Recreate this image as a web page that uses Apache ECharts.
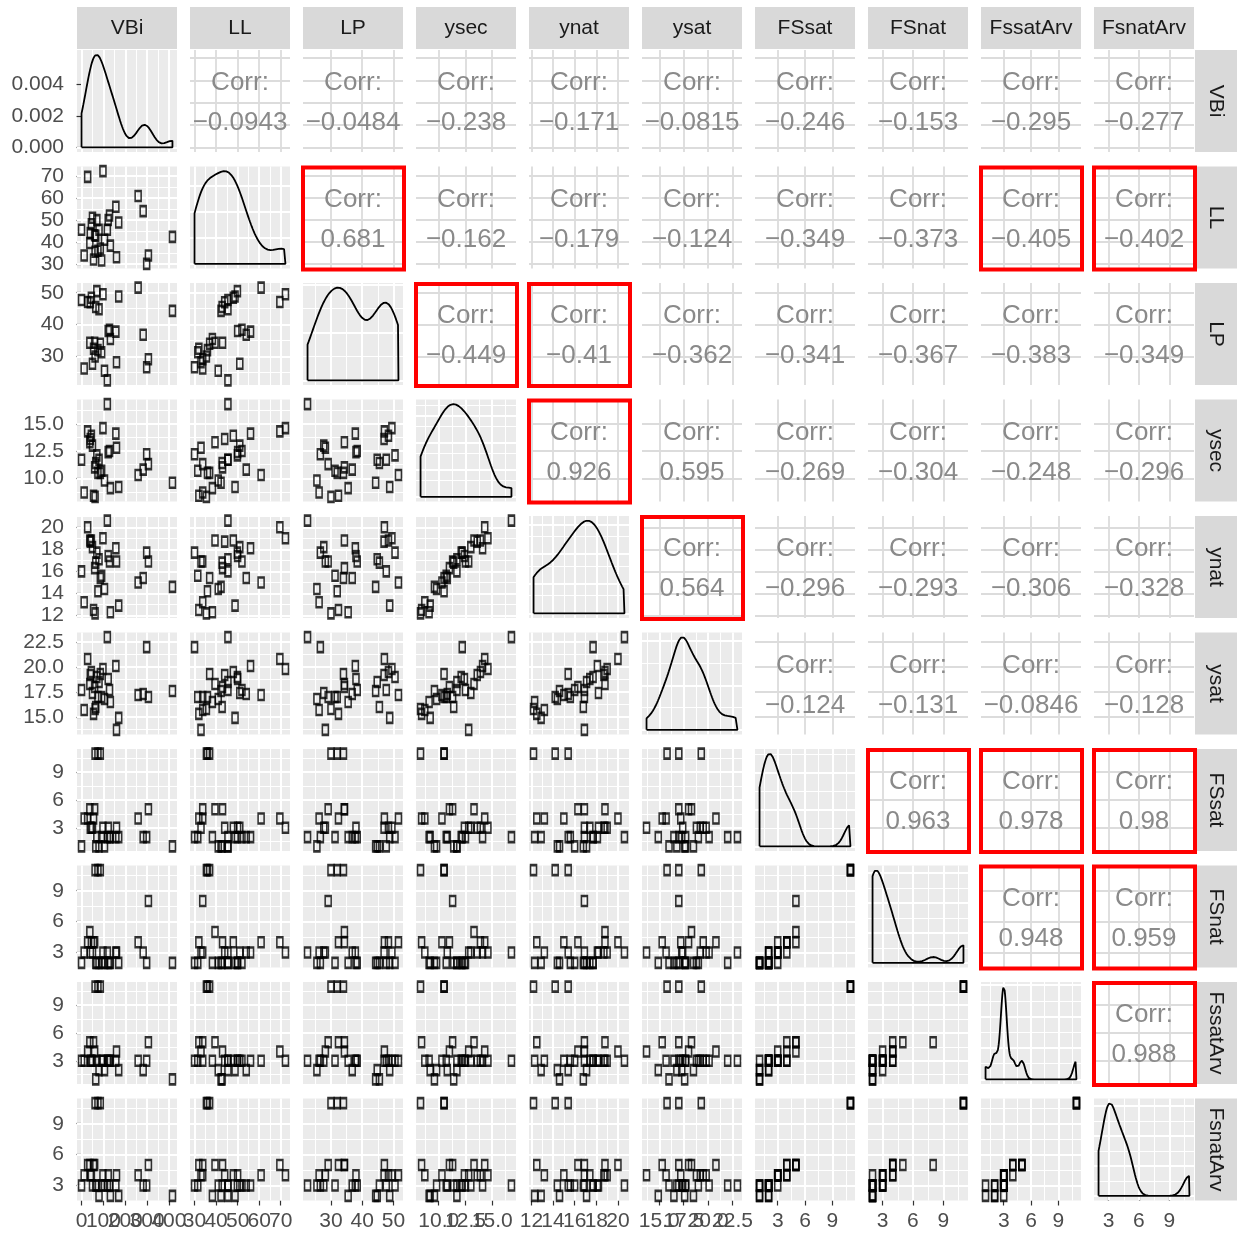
<!DOCTYPE html>
<html>
<head>
<meta charset="utf-8">
<script src="https://cdn.jsdelivr.net/npm/echarts@6/dist/echarts.min.js"></script>
<style>
  html, body { margin: 0; padding: 0; background: #fff; }
  #pairs { width: 1238px; height: 1234px; }
</style>
</head>
<body>
<div id="pairs"></div>
<script>
// variables, one value per observation (30 obs)
const varNames = ['VBi', 'LL', 'LP', 'ysec', 'ynat', 'ysat', 'FSsat', 'FSnat', 'FssatArv', 'FsnatArv']
const VBi = [0, 416, 259, 282, 298, 306, 118, 170, 157, 160, 128, 132, 62, 75, 86, 28, 98, 70, 45, 80, 65, 38, 50, 60, 92, 12, 40, 55, 122, 105]
const LL = [45.5, 42.3, 60.9, 54.0, 30.0, 33.8, 45.5, 48.8, 56.0, 33.0, 52.0, 38.3, 35.5, 36.0, 37.0, 69.6, 72.2, 49.9, 48.0, 45.5, 42.8, 39.5, 51.0, 43.0, 31.5, 33.8, 44.0, 32.0, 50.0, 41.0]
const LP = [47.7, 44.3, 51.6, 36.8, 26.6, 29.1, 22.5, 48.8, 37.8, 28.2, 38.4, 35.5, 30.0, 32.0, 34.0, 47.1, 49.5, 50.5, 48.4, 44.8, 45.5, 34.3, 27.7, 34.3, 31.3, 26.2, 47.0, 32.4, 38.0, 25.5]
const ysec = [11.7, 9.6, 10.3, 10.8, 12.2, 11.3, 16.8, 9.2, 14.1, 12.8, 12.5, 9.1, 8.3, 10.5, 10.5, 14.3, 14.6, 12.1, 13.9, 11.7, 11.4, 13.3, 13.0, 11.0, 10.7, 8.7, 13.6, 8.4, 12.4, 9.8]
const ynat = [16.0, 14.6, 15.0, 15.4, 17.7, 16.9, 20.6, 12.9, 18.1, 16.9, 16.9, 12.3, 12.2, 14.2, 15.4, 20.0, 19.0, 17.7, 18.8, 17.1, 16.8, 18.8, 18.2, 16.3, 15.6, 13.2, 18.7, 12.5, 17.4, 14.4]
const ysat = [17.7, 17.6, 17.2, 17.3, 22.0, 17.0, 23.0, 14.9, 20.1, 13.7, 17.7, 16.5, 15.8, 17.0, 19.3, 20.8, 19.8, 19.0, 19.5, 18.5, 16.0, 18.3, 17.4, 18.0, 17.0, 15.7, 19.2, 15.3, 18.8, 16.8]
const FSsat = [1, 1, 4, 2, 2, 5, 2, 2, 2, 3, 2, 2, 11, 11, 11, 4, 3, 2, 3, 1, 1, 5, 3, 5, 2, 4, 3, 4, 3, 1]
const FSnat = [2, 2, 4, 3, 2, 8, 3, 2, 3, 3, 2, 2, 11, 11, 11, 4, 3, 2, 4, 2, 2, 5, 3, 4, 2, 3, 3, 4, 2, 2]
const FssatArv = [3, 1, 3, 2, 3, 5, 3, 2, 3, 4, 3, 3, 11, 11, 11, 4, 3, 3, 3, 2, 1, 5, 3, 4, 3, 3, 3, 5, 3, 2]
const FsnatArv = [3, 2, 4, 3, 3, 5, 3, 2, 3, 4, 3, 2, 11, 11, 11, 5, 4, 3, 4, 2, 3, 5, 3, 5, 3, 4, 4, 5, 4, 3]

// tick labels
const vbiTicks = [0, 100, 200, 300, 400]
const llTicks = [30, 40, 50, 60, 70]
const lpTicks = [30, 40, 50]
const ysecTicks = [10, 12.5, 15]
const ynatTicks = [12, 14, 16, 18, 20]
const ysatTicks = [15, 17.5, 20, 22.5]
const fsTicks = [3, 6, 9]
const densityTicks = [0, 0.002, 0.004]
const labelDecimals = [0, 0, 0, 1, 0, 1, 0, 0, 0, 0]

// printed correlations, upper triangle, row by row
const corrValues = [
  [-0.0943, -0.0484, -0.238, -0.171, -0.0815, -0.246, -0.153, -0.295, -0.277],
  [0.681, -0.162, -0.179, -0.124, -0.349, -0.373, -0.405, -0.402],
  [-0.449, -0.41, -0.362, -0.341, -0.367, -0.383, -0.349],
  [0.926, 0.595, -0.269, -0.304, -0.248, -0.296],
  [0.564, -0.296, -0.293, -0.306, -0.328],
  [-0.124, -0.131, -0.0846, -0.128],
  [0.963, 0.978, 0.98],
  [0.948, 0.959],
  [0.988]
]
// panels marked with a red frame [row, col]
const highlighted = [[1, 2], [1, 8], [1, 9], [2, 3], [2, 4], [3, 4], [4, 5], [6, 7], [6, 8], [6, 9], [7, 8], [7, 9], [8, 9]]

const columns = [VBi, LL, LP, ysec, ynat, ysat, FSsat, FSnat, FssatArv, FsnatArv]
const majorTicks = [vbiTicks, llTicks, lpTicks, ysecTicks, ynatTicks, ysatTicks, fsTicks, fsTicks, fsTicks, fsTicks]

const FONT = "'Liberation Sans', Arial, sans-serif"
const N = varNames.length
const LEFT0 = 77
const TOP0 = 50
const PW = 100
const PH = 102
const DX = 113
const DY = 116.5

function expandRange (arr) {
  const lo = Math.min(...arr)
  const hi = Math.max(...arr)
  const pad = (hi - lo) * 0.05
  return [lo - pad, hi + pad]
}

function minorBreaks (major, lo, hi) {
  const step = major[1] - major[0]
  const out = []
  for (let v = major[0] - step / 2; v <= major[major.length - 1] + step / 2 + 1e-9; v += step) {
    if (v > lo && v < hi) out.push(v)
  }
  return out
}

function quantile (sorted, p) {
  const h = (sorted.length - 1) * p
  const l = Math.floor(h)
  const u = Math.min(l + 1, sorted.length - 1)
  return sorted[l] + (h - l) * (sorted[u] - sorted[l])
}

// R's bw.nrd0
function bandwidth (x) {
  const n = x.length
  const m = x.reduce((a, b) => a + b, 0) / n
  const sd = Math.sqrt(x.reduce((a, b) => a + (b - m) * (b - m), 0) / (n - 1))
  const s = x.slice().sort((a, b) => a - b)
  const iqr = quantile(s, 0.75) - quantile(s, 0.25)
  let lo = Math.min(sd, iqr / 1.34)
  if (!lo) lo = sd || Math.abs(x[0]) || 1
  return 0.9 * lo * Math.pow(n, -0.2)
}

// gaussian kde over the data range, closed as a polygon like geom_density
function densityPath (x) {
  const bw = bandwidth(x)
  const lo = Math.min(...x)
  const hi = Math.max(...x)
  const pts = [[lo, 0]]
  let top = 0
  for (let s = 0; s <= 200; s++) {
    const t = lo + (hi - lo) * s / 200
    let d = 0
    for (const v of x) {
      const z = (t - v) / bw
      d += Math.exp(-0.5 * z * z)
    }
    d = d / (x.length * bw * Math.sqrt(2 * Math.PI))
    top = Math.max(top, d)
    pts.push([t, d])
  }
  pts.push([hi, 0], [lo, 0])
  return { pts, top }
}

function niceBreaks (lo, hi) {
  const raw = (hi - lo) / 4
  const mag = Math.pow(10, Math.floor(Math.log10(raw)))
  const norm = raw / mag
  const step = [1, 2, 2.5, 5, 10].find(s => s >= norm) * mag
  const out = []
  for (let v = Math.ceil(lo / step) * step; v <= hi; v += step) out.push(+v.toPrecision(10))
  return out
}

const ranges = columns.map(expandRange)
const densities = columns.map(densityPath)

const grids = []
const xAxes = []
const yAxes = []
const series = []
const elements = []

function gridLines (xMaj, xMin, yMaj, yMin, upper) {
  const lines = []
  if (upper) {
    xMaj.forEach(v => lines.push({ xAxis: v, lineStyle: { color: '#DCDCDC', width: 1.8, type: 'solid' } }))
    yMaj.forEach(v => lines.push({ yAxis: v, lineStyle: { color: '#DCDCDC', width: 1.8, type: 'solid' } }))
    return lines
  }
  xMin.forEach(v => lines.push({ xAxis: v, lineStyle: { color: '#FFFFFF', width: 1, type: 'solid' } }))
  yMin.forEach(v => lines.push({ yAxis: v, lineStyle: { color: '#FFFFFF', width: 1, type: 'solid' } }))
  xMaj.forEach(v => lines.push({ xAxis: v, lineStyle: { color: '#FFFFFF', width: 2, type: 'solid' } }))
  yMaj.forEach(v => lines.push({ yAxis: v, lineStyle: { color: '#FFFFFF', width: 2, type: 'solid' } }))
  return lines
}

const xMajors = []

for (let i = 0; i < N; i++) {
  for (let j = 0; j < N; j++) {
    const k = i * N + j
    const left = LEFT0 + j * DX
    const top = TOP0 + i * DY
    const upper = j > i
    const diag = i === j

    grids.push({ left, top, width: PW, height: PH, show: !upper, backgroundColor: '#EBEBEB', borderWidth: 0 })

    const xr = ranges[j]
    const xMaj = majorTicks[j].filter(v => v >= xr[0] && v <= xr[1])
    const xMin = minorBreaks(majorTicks[j], xr[0], xr[1])
    if (i === N - 1) xMajors.push(xMaj)
    let yr, yMaj, yMin
    if (diag) {
      const t = densities[i].top
      yr = [-0.05 * t, 1.05 * t]
      yMaj = i === 0 ? densityTicks.filter(v => v <= yr[1]) : niceBreaks(yr[0], yr[1])
      yMin = minorBreaks(yMaj, yr[0], yr[1])
    } else {
      yr = ranges[i]
      yMaj = majorTicks[i].filter(v => v >= yr[0] && v <= yr[1])
      yMin = minorBreaks(majorTicks[i], yr[0], yr[1])
    }

    const bottomRow = i === N - 1
    const firstCol = j === 0
    const yDec = diag ? 3 : labelDecimals[i]
    xAxes.push({
      gridIndex: k, type: 'value', min: xr[0], max: xr[1],
      axisLine: { show: false }, splitLine: { show: false },
      axisTick: { show: bottomRow, customValues: xMaj, length: 5, lineStyle: { color: '#333', width: 1.2 } },
      axisLabel: { show: false }
    })
    yAxes.push({
      gridIndex: k, type: 'value', min: yr[0], max: yr[1],
      axisLine: { show: false }, splitLine: { show: false },
      axisTick: { show: firstCol, customValues: yMaj, length: 5, lineStyle: { color: '#333', width: 1.2 } },
      axisLabel: { show: firstCol, customValues: yMaj, hideOverlap: false, showMinLabel: true, showMaxLabel: true,
        margin: 13, color: '#4D4D4D', fontSize: 21, fontFamily: FONT,
        formatter: v => Number(v).toFixed(yDec) }
    })

    // background grid lines
    series.push({
      type: 'line', xAxisIndex: k, yAxisIndex: k, data: [[xr[0], yr[0]]],
      showSymbol: false, lineStyle: { width: 0 }, silent: true, z: 1,
      markLine: { silent: true, symbol: ['none', 'none'], z: 1, animation: false, label: { show: false },
        data: gridLines(xMaj, xMin, yMaj, yMin, upper) }
    })

    if (diag) {
      series.push({
        type: 'line', xAxisIndex: k, yAxisIndex: k, data: densities[i].pts,
        showSymbol: false, silent: true, z: 3,
        lineStyle: { color: '#000', width: 1.8 }
      })
    } else if (!upper) {
      series.push({
        type: 'scatter', xAxisIndex: k, yAxisIndex: k,
        data: columns[j].map((v, n) => [v, columns[i][n]]),
        symbol: 'rect', symbolSize: [6, 10], silent: true, z: 3,
        itemStyle: { color: 'rgba(0,0,0,0)', borderColor: '#000', borderWidth: 2 }
      })
    } else {
      const r = corrValues[i][j - i - 1]
      const txt = (r < 0 ? '\u2212' : '') + String(Math.abs(r))
      elements.push({ type: 'text', x: left + PW / 2, y: top + 33, silent: true, z: 100,
        style: { text: 'Corr:', align: 'center', verticalAlign: 'middle', font: '26px ' + FONT, fill: '#8A8A8A' } })
      elements.push({ type: 'text', x: left + PW / 2, y: top + 73, silent: true, z: 100,
        style: { text: txt, align: 'center', verticalAlign: 'middle', font: '26px ' + FONT, fill: '#8A8A8A' } })
    }
  }
}

// strips
varNames.forEach((name, j) => {
  const left = LEFT0 + j * DX
  elements.push({ type: 'rect', shape: { x: left, y: 7, width: PW, height: 42 }, style: { fill: '#D9D9D9' }, silent: true, z: 90 })
  elements.push({ type: 'text', x: left + PW / 2, y: 28, silent: true, z: 100,
    style: { text: name, align: 'center', verticalAlign: 'middle', font: '21px ' + FONT, fill: '#1A1A1A' } })
  const top = TOP0 + j * DY
  elements.push({ type: 'rect', shape: { x: 1195, y: top, width: 42, height: PH }, style: { fill: '#D9D9D9' }, silent: true, z: 90 })
  elements.push({ type: 'text', x: 1216, y: top + PH / 2, rotation: -Math.PI / 2, silent: true, z: 100,
    style: { text: name, align: 'center', verticalAlign: 'middle', font: '21px ' + FONT, fill: '#1A1A1A' } })
})

// red frames
highlighted.forEach(([i, j]) => {
  elements.push({ type: 'rect', silent: true, z: 110,
    shape: { x: LEFT0 + j * DX, y: TOP0 + i * DY + 1, width: PW + 1, height: PH },
    style: { fill: 'none', stroke: '#FF0000', lineWidth: 4 } })
})

const option = {
  animation: false,
  backgroundColor: '#FFFFFF',
  grid: grids,
  xAxis: xAxes,
  yAxis: yAxes,
  series,
  graphic: { elements }
}

const pairsChart = echarts.init(document.getElementById('pairs'))
pairsChart.setOption(option)

// bottom tick labels, placed through each bottom panel's x axis (overlap kept, as in the original)
const bottomTop = TOP0 + (N - 1) * DY + PH
xMajors.forEach((ticks, j) => {
  const k = (N - 1) * N + j
  ticks.forEach(v => {
    const px = pairsChart.convertToPixel({ xAxisIndex: k }, v)
    elements.push({ type: 'text', x: px, y: bottomTop + 10, silent: true, z: 100,
      style: { text: v.toFixed(labelDecimals[j]), align: 'center', verticalAlign: 'top', font: '21px ' + FONT, fill: '#4D4D4D' } })
  })
})
pairsChart.setOption({ graphic: { elements } })
</script>
</body>
</html>
